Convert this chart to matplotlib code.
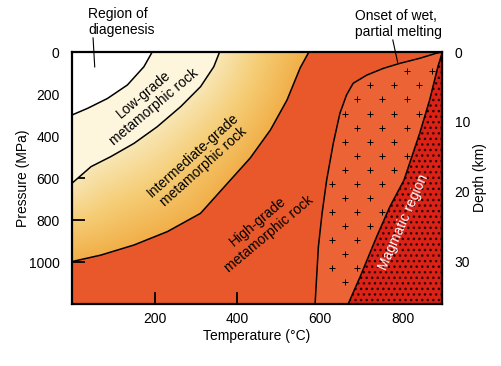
#!/usr/bin/env python3

# Pressure-temperature field of metamorphic grades, redrawn from a scanned
# textbook figure. Boundaries were read off the picture by eye.

import matplotlib.pyplot as plt
import numpy as np
from matplotlib.colors import LinearSegmentedColormap
from matplotlib.patches import Polygon

plt.rcParams['font.family'] = ['Liberation Sans', 'DejaVu Sans']
plt.rcParams['hatch.linewidth'] = 1.0

# Boundary curves as (temperature in degC, pressure in MPa)
diagT = [194, 174, 134, 86, 38, 0]
diagP = [0, 70, 157, 221, 268, 300]
lowT = [357, 343, 311, 263, 206, 150, 94, 46, 0]
lowP = [0, 70, 165, 260, 356, 435, 498, 546, 625]
highT = [0, 70, 150, 231, 311, 383, 431, 480, 520, 552, 573]
highP = [998, 967, 919, 855, 768, 610, 505, 371, 229, 75, 0]
solidusT = [588, 596, 605, 616, 632, 648, 664, 680, 713, 753, 793, 841,
            881, 896]
solidusP = [1200, 927, 767, 610, 435, 292, 205, 149, 110, 78, 54, 30, 6, 0]
liquidusT = [896, 885, 865, 841, 803, 769, 737, 697, 668]
liquidusP = [0, 70, 229, 387, 610, 736, 879, 1070, 1200]

pressureTicks = [0, 200, 400, 600, 800, 1000]
temperatureTicks = [200, 400, 600, 800]
depthTicks = [0, 10, 20, 30]
mpaPerKm = 33.3

tMax = 895
pMax = 1200

highColour = "#e9582a"
meltColour = "#ec6436"
magmaColour = "#db2216"
lowColour = "#fdf5dc"
interCmap = LinearSegmentedColormap.from_list(
    "inter", ["#f8e6b4", "#f5cc74", "#f1ae48"])

fig = plt.figure(figsize=(5.02, 3.66), dpi=100)
ax = fig.add_axes([0.1434, 0.1694, 0.7371, 0.6885])
ax.set_xlim(0, tMax)
ax.set_ylim(pMax, 0)
ax.set_facecolor(highColour)


def curve(ts, ps):
    return np.column_stack([ts, ps])


def densify(ts, ps, n=300):
    """Resamples a polyline to n points (scaled roughly to screen units)."""
    pts = curve(ts, ps) / [2.41, 4.76]
    seg = np.hypot(*np.diff(pts, axis=0).T)
    s = np.concatenate([[0], np.cumsum(seg)])
    u = np.linspace(0, s[-1], n)
    return np.column_stack([np.interp(u, s, pts[:, 0]),
                            np.interp(u, s, pts[:, 1])])


def distance_to(grid, line):
    d = np.hypot(grid[:, None, 0] - line[None, :, 0],
                 grid[:, None, 1] - line[None, :, 1])
    return d.min(axis=1)


# Intermediate grade: gradient from the low-grade edge to the high-grade
# edge, clipped to the region inside the intermediate/high boundary
interPoly = Polygon(np.vstack([[[0, 0]], curve(highT, highP)]),
                    closed=True, facecolor="none", edgecolor="none")
ax.add_patch(interPoly)
tt, pp = np.meshgrid(np.linspace(0, 600, 160), np.linspace(0, 1050, 200))
grid = np.column_stack([tt.ravel() / 2.41, pp.ravel() / 4.76])
dLow = distance_to(grid, densify(lowT, lowP))
dHigh = distance_to(grid, densify(highT, highP))
frac = (dLow / (dLow + dHigh + 1e-9)).reshape(tt.shape)
img = ax.imshow(interCmap(frac), extent=(0, 600, 1050, 0), origin="upper",
                aspect="auto", interpolation="bilinear", zorder=1)
img.set_clip_path(interPoly)

# Low grade and diagenesis fills
ax.add_patch(Polygon(np.vstack([[[0, 0]], curve(lowT[::-1], lowP[::-1])]),
                     closed=True, facecolor=lowColour, edgecolor="none",
                     zorder=2))
ax.add_patch(Polygon(np.vstack([[[0, 0]], curve(diagT, diagP)]),
                     closed=True, facecolor="white", edgecolor="none",
                     zorder=3))

# Partial melting zone and magmatic region
meltPoly = Polygon(np.vstack([curve(solidusT, solidusP),
                              curve(liquidusT, liquidusP)]),
                   closed=True, facecolor=meltColour, edgecolor="none",
                   zorder=2)
ax.add_patch(meltPoly)
ax.add_patch(Polygon(np.vstack([curve(liquidusT, liquidusP),
                                [[tMax + 10, pMax], [tMax + 10, 0]]]),
                     closed=True, facecolor=magmaColour, edgecolor="#2a0000",
                     linewidth=0, hatch="...", zorder=2))

# Cross texture in the melting zone (only lattice points inside the zone)
lattice = []
for row, p in enumerate(np.arange(25, 1150, 67)):
    for t in np.arange(540 + 30 * (row % 2), tMax, 60):
        lattice.append((t, p))
lattice = np.array(lattice)
inside = meltPoly.get_path().contains_points(lattice, radius=-20)
ax.plot(lattice[inside, 0], lattice[inside, 1], "+", color="black",
        markersize=5, mew=0.7, zorder=3, clip_on=True)

# Boundary lines
for ts, ps in [(diagT, diagP), (lowT, lowP), (highT, highP),
               (solidusT, solidusP), (liquidusT, liquidusP)]:
    ax.plot(ts, ps, color="black", linewidth=1.1, zorder=4)

# Ticks and spines
ax.set_xticks(temperatureTicks)
ax.set_yticks(pressureTicks)
ax.tick_params(axis="y", direction="in", length=9, width=1.3, labelsize=10,
               pad=9)
ax.tick_params(axis="x", direction="in", length=9, width=1.3, labelsize=10,
               pad=6)
for spine in ax.spines.values():
    spine.set_linewidth(1.6)
    spine.set_zorder(5)

depth = ax.secondary_yaxis("right", functions=(lambda p: p / mpaPerKm,
                                               lambda d: d * mpaPerKm))
depth.set_yticks(depthTicks)
depth.tick_params(direction="in", length=9, width=1.3, labelsize=10, pad=9)
depth.set_ylabel("Depth (km)", fontsize=10, labelpad=2)

ax.set_xlabel("Temperature (\u00b0C)", fontsize=10, labelpad=2)
ax.set_ylabel("Pressure (MPa)", fontsize=10, labelpad=-1)

# Region labels
ax.text(186, 233, "Low-grade\nmetamorphic rock", rotation=40, fontsize=10,
        ha="center", va="center", multialignment="center", zorder=6)
ax.text(306, 519, "Intermediate-grade\nmetamorphic rock", rotation=42,
        fontsize=10, ha="center", va="center", multialignment="center",
        zorder=6)
ax.text(463, 838, "High-grade\nmetamorphic rock", rotation=40, fontsize=10,
        ha="center", va="center", multialignment="center", zorder=6)
ax.text(803, 810, "Magmatic region", rotation=66, fontsize=10,
        color="white", ha="center", va="center", zorder=6)

# Callouts above the plot
ax.text(39, -70, "Region of\ndiagenesis", fontsize=10, ha="left",
        va="bottom", multialignment="left")
ax.plot([51, 55], [-67, 71], color="black", linewidth=0.8, clip_on=False,
        zorder=6)
ax.text(684, -62, "Onset of wet,\npartial melting", fontsize=10, ha="left",
        va="bottom", multialignment="left")
ax.plot([776, 788], [-57, 52], color="black", linewidth=0.8, clip_on=False,
        zorder=6)

fig.savefig("out.png", dpi=100)
